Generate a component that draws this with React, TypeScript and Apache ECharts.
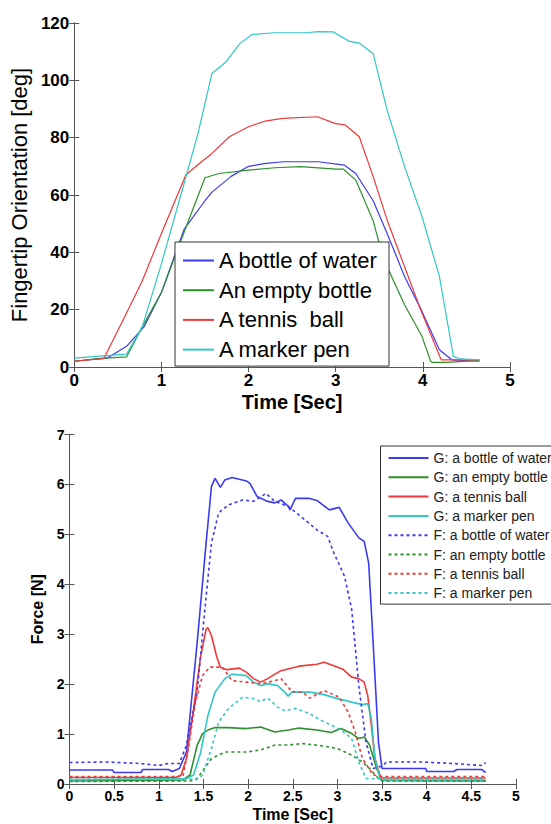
import React, { useEffect, useRef } from "react";
import * as echarts from "echarts";

// Top chart: fingertip orientation [deg] vs time [s]
const orientWater: [number, number][] = [[0,2],[0.38,3.1],[0.6,7.2],[0.8,14],[1.0,26],[1.26,48],[1.5,58],[1.58,61],[1.8,66.5],[2.0,70],[2.2,71],[2.4,71.6],[2.8,71.6],[3.1,70.4],[3.23,67.5],[3.43,58],[3.59,46.6],[3.79,31.6],[3.99,19.4],[4.19,6],[4.33,2.5],[4.65,2]];
const orientEmpty: [number, number][] = [[0,2],[0.3,3],[0.6,3.5],[0.78,14],[1.0,26],[1.26,47],[1.5,66],[1.66,67.5],[2.0,68.7],[2.3,69.5],[2.6,69.9],[3.0,69],[3.09,69],[3.23,65.2],[3.43,51],[3.53,39.7],[3.59,35],[3.79,21.7],[3.99,10.7],[4.09,2],[4.11,1.6],[4.27,1.6],[4.65,2.3]];
const orientTennis: [number, number][] = [[0,2],[0.34,3],[0.58,17.6],[0.78,30],[1.0,46.6],[1.28,67],[1.46,71.6],[1.58,74.5],[1.78,80.3],[2.0,83.8],[2.19,85.8],[2.39,86.7],[2.79,87.3],[2.99,85],[3.11,84.4],[3.27,80.3],[3.43,66.4],[3.59,51.3],[3.79,35],[3.99,18.8],[4.21,2.5],[4.65,2.5]];
const orientMarker: [number, number][] = [[0,3.1],[0.6,4.5],[0.78,14],[1.0,36],[1.26,64],[1.42,81.5],[1.58,102.4],[1.74,106.4],[1.9,112.8],[2.04,116],[2.3,116.6],[2.67,116.6],[2.79,117],[2.97,116.9],[3.15,113.7],[3.27,113],[3.43,109.3],[3.59,89.6],[3.79,69.9],[3.99,52.5],[4.19,31.6],[4.35,3.7],[4.43,2.8],[4.65,2.5]];

// Bottom chart: force [N] vs time [s]
const gWater: [number, number][] = [[0,0.28],[0.48,0.28],[0.5,0.23],[0.8,0.23],[0.82,0.29],[1.11,0.29],[1.15,0.25],[1.23,0.31],[1.31,0.64],[1.43,2.84],[1.53,4.83],[1.59,5.96],[1.63,6.12],[1.69,5.94],[1.74,6.09],[1.82,6.14],[1.98,6.07],[2.02,6.02],[2.1,5.76],[2.22,5.66],[2.3,5.63],[2.37,5.69],[2.45,5.56],[2.47,5.49],[2.53,5.72],[2.69,5.72],[2.77,5.68],[2.91,5.49],[3.02,5.54],[3.12,5.23],[3.24,4.93],[3.3,4.86],[3.35,4.43],[3.4,2.84],[3.46,0.84],[3.5,0.31],[3.99,0.31],[4.0,0.25],[4.3,0.25],[4.34,0.29],[4.62,0.29],[4.66,0.23]];
const gEmpty: [number, number][] = [[0,0.06],[1.27,0.08],[1.35,0.18],[1.43,0.78],[1.49,1.01],[1.55,1.08],[1.63,1.13],[1.78,1.13],[1.98,1.11],[2.14,1.14],[2.3,1.04],[2.45,1.08],[2.57,1.12],[2.77,1.08],[2.93,1.03],[3.04,1.11],[3.16,1.01],[3.24,0.91],[3.3,0.94],[3.36,0.78],[3.44,0.31],[3.5,0.07],[4.66,0.06]];
const gTennis: [number, number][] = [[0,0.13],[1.19,0.13],[1.25,0.18],[1.31,0.51],[1.39,1.51],[1.47,2.57],[1.53,3.1],[1.55,3.13],[1.59,2.97],[1.65,2.54],[1.69,2.34],[1.76,2.29],[1.9,2.32],[1.98,2.24],[2.06,2.11],[2.14,2.04],[2.22,2.11],[2.3,2.2],[2.37,2.27],[2.57,2.36],[2.77,2.4],[2.85,2.44],[2.96,2.37],[3.06,2.3],[3.16,2.14],[3.24,2.11],[3.3,2.04],[3.34,1.77],[3.38,1.18],[3.42,0.51],[3.48,0.15],[3.5,0.12],[4.66,0.12]];
const gMarker: [number, number][] = [[0,0.08],[1.31,0.11],[1.39,0.18],[1.47,0.64],[1.55,1.37],[1.63,1.84],[1.74,2.11],[1.82,2.2],[1.98,2.17],[2.06,2.04],[2.14,1.97],[2.22,2.01],[2.33,1.97],[2.41,1.84],[2.45,1.76],[2.49,1.84],[2.69,1.84],[2.85,1.79],[3.0,1.71],[3.16,1.64],[3.28,1.59],[3.34,1.61],[3.38,1.31],[3.42,0.51],[3.48,0.1],[3.5,0.08],[4.66,0.08]];
const fWater: [number, number][] = [[0,0.43],[0.4,0.44],[0.8,0.41],[1.0,0.37],[1.1,0.41],[1.23,0.41],[1.31,0.78],[1.43,1.84],[1.51,3.4],[1.59,4.83],[1.67,5.43],[1.78,5.59],[1.94,5.69],[2.06,5.66],[2.2,5.82],[2.3,5.66],[2.45,5.56],[2.61,5.33],[2.77,5.09],[2.89,4.96],[2.96,4.63],[3.08,4.16],[3.16,3.5],[3.24,1.97],[3.32,0.84],[3.4,0.31],[3.5,0.36],[3.55,0.44],[3.95,0.44],[4.3,0.41],[4.62,0.37],[4.66,0.43]];
const fEmpty: [number, number][] = [[0,0.05],[1.35,0.06],[1.43,0.11],[1.51,0.31],[1.59,0.51],[1.74,0.64],[1.98,0.64],[2.14,0.68],[2.3,0.78],[2.45,0.78],[2.61,0.81],[2.85,0.76],[3.0,0.71],[3.16,0.58],[3.28,0.44],[3.36,0.31],[3.46,0.11],[3.5,0.06],[4.66,0.06]];
const fTennis: [number, number][] = [[0,0.15],[1.27,0.15],[1.33,0.71],[1.41,1.64],[1.49,2.17],[1.57,2.34],[1.71,2.34],[1.82,2.07],[1.98,2.04],[2.14,2.01],[2.3,2.07],[2.37,2.11],[2.49,1.85],[2.61,1.84],[2.69,1.72],[2.85,1.87],[2.93,1.81],[3.02,1.74],[3.12,1.44],[3.2,1.04],[3.28,0.51],[3.4,0.18],[3.5,0.15],[4.66,0.15]];
const fMarker: [number, number][] = [[0,0.1],[1.35,0.1],[1.41,0.08],[1.49,0.18],[1.59,0.71],[1.67,1.24],[1.78,1.51],[1.94,1.74],[2.06,1.71],[2.14,1.65],[2.22,1.72],[2.33,1.54],[2.41,1.47],[2.53,1.51],[2.69,1.41],[2.81,1.28],[2.93,1.18],[3.04,1.08],[3.16,0.91],[3.24,0.44],[3.32,0.11],[3.5,0.1],[4.66,0.1]];

const topNames = ["A bottle of water", "An empty bottle", "A tennis  ball", "A marker pen"];
const bottomNames = [
  "G: a bottle of water", "G: an empty bottle", "G: a tennis ball", "G: a marker pen",
  "F: a bottle of water", "F: an empty bottle", "F: a tennis ball", "F: a marker pen",
];
const xTitle = "Time [Sec]";
const topYTitle = "Fingertip Orientation [deg]";
const bottomYTitle = "Force [N]";

const BLUE = "#3b3bf2";
const GREEN = "#2e912e";
const RED = "#f03838";
const CYAN = "#33c6c6";
const FONT = "'Liberation Sans', Arial, sans-serif";

export default function App() {
  const ref = useRef<HTMLDivElement>(null);
  useEffect(() => {
    document.body.style.margin = "0";
    const chart = echarts.init(ref.current!, null, { renderer: "svg" });
    const axisLine = { show: true, lineStyle: { color: "#555", width: 1 } };
    const tick = { show: true, inside: true, length: 5, lineStyle: { color: "#555" } };
    const lbl = (size: number, margin: number) => ({ show: true, color: "#000", fontSize: size, fontWeight: "bold" as const, fontFamily: FONT, margin });
    const hidden = { show: false };

    const colors = [BLUE, GREEN, RED, CYAN];
    const topData = [orientWater, orientEmpty, orientTennis, orientMarker];
    const gData = [gWater, gEmpty, gTennis, gMarker];
    const fData = [fWater, fEmpty, fTennis, fMarker];

    const series: any[] = [];
    topData.forEach((d, i) => series.push({
      type: "line", name: topNames[i], xAxisIndex: 0, yAxisIndex: 0, data: d,
      symbol: "none", lineStyle: { color: colors[i], width: 1.2 }, itemStyle: { color: colors[i] },
    }));
    gData.forEach((d, i) => series.push({
      type: "line", name: bottomNames[i], xAxisIndex: 2, yAxisIndex: 2, data: d,
      symbol: "none", lineStyle: { color: colors[i], width: 1.6 }, itemStyle: { color: colors[i] },
    }));
    fData.forEach((d, i) => series.push({
      type: "line", name: bottomNames[i + 4], xAxisIndex: 2, yAxisIndex: 2, data: d,
      symbol: "none", lineStyle: { color: colors[i], width: 1.6, type: [3, 3] }, itemStyle: { color: colors[i] },
    }));

    chart.setOption({
      animation: false,
      backgroundColor: "#fff",
      grid: [
        { left: 72, top: 23, width: 438, height: 344 },
        { left: 69.5, top: 434.5, width: 446.5, height: 349.5 },
      ],
      xAxis: [
        { type: "value", gridIndex: 0, position: "bottom", min: 0, max: 5, interval: 1, axisLine, axisTick: tick, splitLine: hidden, axisLabel: lbl(17, 5),
          name: xTitle, nameLocation: "middle", nameGap: 25, nameTextStyle: { fontSize: 20, fontWeight: "bold", color: "#000", fontFamily: FONT } },
        { type: "value", gridIndex: 0, position: "top", min: 0, max: 5, interval: 1, axisLine, axisTick: tick, splitLine: hidden, axisLabel: hidden },
        { type: "value", gridIndex: 1, position: "bottom", min: 0, max: 5, interval: 0.5, axisLine, axisTick: tick, splitLine: hidden, axisLabel: lbl(14, 5),
          name: xTitle, nameLocation: "middle", nameGap: 22, nameTextStyle: { fontSize: 16, fontWeight: "bold", color: "#000", fontFamily: FONT } },
        { type: "value", gridIndex: 1, position: "top", min: 0, max: 5, interval: 0.5, axisLine, axisTick: tick, splitLine: hidden, axisLabel: hidden },
      ],
      yAxis: [
        { type: "value", gridIndex: 0, position: "left", min: 0, max: 120, interval: 20, axisLine, axisTick: tick, splitLine: hidden, axisLabel: lbl(17, 5),
          name: topYTitle, nameLocation: "middle", nameGap: 42, nameRotate: 90, nameTextStyle: { fontSize: 22, color: "#000", fontFamily: FONT } },
        { type: "value", gridIndex: 0, position: "right", min: 0, max: 120, interval: 20, axisLine, axisTick: tick, splitLine: hidden, axisLabel: hidden },
        { type: "value", gridIndex: 1, position: "left", min: 0, max: 7, interval: 1, axisLine, axisTick: tick, splitLine: hidden, axisLabel: lbl(14, 5),
          name: bottomYTitle, nameLocation: "middle", nameGap: 16, nameRotate: 90, nameTextStyle: { fontSize: 16, fontWeight: "bold", color: "#000", fontFamily: FONT } },
        { type: "value", gridIndex: 1, position: "right", min: 0, max: 7, interval: 1, axisLine, axisTick: tick, splitLine: hidden, axisLabel: hidden },
      ],
      legend: [
        {
          data: topNames, orient: "vertical", left: 175, top: 242, selectedMode: false,
          itemWidth: 31, itemHeight: 14, itemGap: 7.7, padding: [7.5, 6, 5.5, 7],
          itemStyle: { opacity: 0, borderWidth: 0 },
          backgroundColor: "#fff", borderColor: "#333", borderWidth: 1, borderRadius: 0,
          textStyle: { fontSize: 22, lineHeight: 21, color: "#000", fontFamily: FONT, width: 164 },
        },
        {
          data: bottomNames, orient: "vertical", left: 380.5, top: 446, selectedMode: false,
          itemWidth: 40, itemHeight: 10, itemGap: 5.3, padding: [5, 10, 4, 7],
          itemStyle: { opacity: 0, borderWidth: 0 },
          backgroundColor: "#fff", borderColor: "#333", borderWidth: 1, borderRadius: 0,
          textStyle: { fontSize: 14, lineHeight: 14, color: "#222", fontFamily: FONT },
        },
      ],
      series,
    });
    return () => chart.dispose();
  }, []);
  return <div ref={ref} style={{ position: "absolute", left: 0, top: 0, width: 551, height: 824 }} />;
}
